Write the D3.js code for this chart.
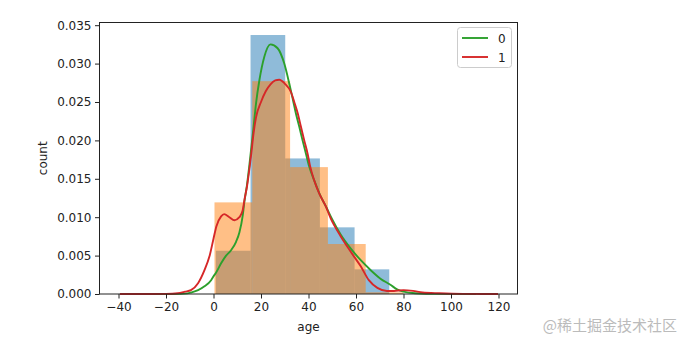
<!DOCTYPE html>
<html>
<head>
<meta charset="utf-8">
<script src="https://cdn.jsdelivr.net/npm/d3@7/dist/d3.min.js"></script>
<style>
  html, body { margin: 0; padding: 0; background: #fff; }
  svg text { font-family: "DejaVu Sans", sans-serif; fill: #222; }
</style>
</head>
<body>
<svg id="chart" width="690" height="347"></svg>
<script>
// Histogram bin edges and densities for each group (0 and 1)
const edges0 = [1, 15.6, 30.2, 44.8, 59.4, 74];
const density0 = [0.00563, 0.03372, 0.01765, 0.00868, 0.00321];
const edges1 = [0.42, 16.34, 32.25, 48.17, 64.08, 80];
const density1 = [0.01193, 0.02771, 0.01652, 0.00651, 0.00022];

// Kernel density estimates: [age, density]
const kde0 = [
  [-35.5, 0], [-20, 0], [-14, 0.00002], [-11, 0.00008], [-9.4, 0.0002],
  [-6.5, 0.0005], [-3.8, 0.0010], [-1, 0.0018], [0, 0.0023], [1.1, 0.0028],
  [3.2, 0.0040], [5.3, 0.0050], [7.4, 0.0057], [9.5, 0.0068], [10.9, 0.0080],
  [12.3, 0.0102], [13, 0.0120], [14.1, 0.0142], [15, 0.0165], [16.9, 0.0218],
  [17.9, 0.0248], [19.3, 0.0278], [21.4, 0.0309], [24, 0.0325], [27, 0.0320],
  [29.8, 0.0300], [31.9, 0.0274], [33.5, 0.0252], [34.7, 0.0235], [36.1, 0.0218],
  [37.5, 0.0200], [38.9, 0.0183], [40.3, 0.0166], [42.4, 0.0148], [45, 0.0128],
  [47.5, 0.0113], [50, 0.0097], [53.6, 0.0077], [57.8, 0.0059], [62, 0.0044],
  [66.2, 0.0031], [70.3, 0.0020], [74.5, 0.0012], [77.3, 0.0006], [80, 0.0003],
  [85, 0.0001], [95, 0.00002], [110.5, 0]
];
const kde1 = [
  [-39.4, 0], [-30, 0], [-20, 0.00002], [-15, 0.0001], [-12, 0.0003],
  [-9.5, 0.0005], [-6.5, 0.0014], [-3.8, 0.0031], [-1.7, 0.0049], [0, 0.0072],
  [1.2, 0.0088], [3.2, 0.0101], [4.5, 0.0104], [6.7, 0.0100], [8.8, 0.0096],
  [10.9, 0.0100], [12.3, 0.0109], [13, 0.0122], [14.1, 0.0140], [15.8, 0.0180],
  [16.9, 0.0210], [17.9, 0.0230], [20, 0.0250], [22, 0.0264], [24, 0.0273],
  [26, 0.0278], [27.7, 0.0279], [30, 0.0274], [32.6, 0.0263], [34, 0.0250],
  [35.4, 0.0236], [36.8, 0.0218], [38.2, 0.0200], [39.6, 0.0183], [40.7, 0.0166],
  [42.4, 0.0148], [44.5, 0.0131], [47.3, 0.0114], [49.4, 0.0098], [53.6, 0.0075],
  [57.8, 0.0055], [62, 0.0036], [65.4, 0.0018], [69, 0.0008], [73, 0.0004],
  [76, 0.0004], [80, 0.0005], [84, 0.0004], [88, 0.0002], [95, 0.0001],
  [105, 0.00002], [119.8, 0]
];

const xTicks = [-40, -20, 0, 20, 40, 60, 80, 100, 120];
const yTicks = [0, 0.005, 0.010, 0.015, 0.020, 0.025, 0.030, 0.035];
const seriesNames = ["0", "1"];

const svg = d3.select("#chart");
const plot = { left: 99.5, right: 517.5, top: 22.5, bottom: 294 };

const x = d3.scaleLinear().domain([-48, 128]).range([plot.left, plot.right]);
const y = d3.scaleLinear().domain([0, 0.03535]).range([plot.bottom, plot.top]);

const histColors = ["#1f77b4", "#ff7f0e"];
const kdeColors = ["#2ca02c", "#d62728"];

// histogram bars
function bins(edges, dens) {
  return dens.map((d, i) => ({ x0: edges[i], x1: edges[i + 1], d }));
}
[bins(edges0, density0), bins(edges1, density1)].forEach((b, k) => {
  svg.append("g").selectAll("rect").data(b).join("rect")
    .attr("x", d => x(d.x0))
    .attr("width", d => x(d.x1) - x(d.x0))
    .attr("y", d => y(d.d))
    .attr("height", d => y(0) - y(d.d))
    .attr("fill", histColors[k])
    .attr("fill-opacity", 0.5);
});

// density curves
const line = d3.line().x(d => x(d[0])).y(d => y(d[1])).curve(d3.curveMonotoneX);
[kde0, kde1].forEach((pts, k) => {
  svg.append("path").datum(pts)
    .attr("d", line)
    .attr("fill", "none")
    .attr("stroke", kdeColors[k])
    .attr("stroke-width", 1.9);
});

// axes
const xAxis = svg.append("g")
  .attr("transform", `translate(0,${plot.bottom})`)
  .call(d3.axisBottom(x).tickValues(xTicks).tickSize(4.5).tickPadding(3.5).tickFormat(d3.format("d")));
const yAxis = svg.append("g")
  .attr("transform", `translate(${plot.left},0)`)
  .call(d3.axisLeft(y).tickValues(yTicks).tickSize(4.5).tickPadding(3.5).tickFormat(d3.format(".3f")));
[xAxis, yAxis].forEach(g => {
  g.select(".domain").remove();
  g.selectAll(".tick line").attr("stroke", "#222").attr("stroke-width", 1);
  g.selectAll(".tick text").attr("font-size", 12).attr("font-family", "DejaVu Sans").attr("fill", "#222");
});

// frame
svg.append("rect")
  .attr("x", plot.left).attr("y", plot.top)
  .attr("width", plot.right - plot.left).attr("height", plot.bottom - plot.top)
  .attr("fill", "none").attr("stroke", "#222").attr("stroke-width", 1);

// axis labels
svg.append("text")
  .attr("x", (plot.left + plot.right) / 2).attr("y", 331)
  .attr("text-anchor", "middle").attr("font-size", 12).text("age");
svg.append("text")
  .attr("transform", `translate(47,${(plot.top + plot.bottom) / 2}) rotate(-90)`)
  .attr("text-anchor", "middle").attr("font-size", 12).text("count");

// legend
const lg = svg.append("g");
lg.append("rect")
  .attr("x", 457.5).attr("y", 27.5).attr("width", 54).attr("height", 40).attr("rx", 3)
  .attr("fill", "#fff").attr("fill-opacity", 0.8).attr("stroke", "#ccc").attr("stroke-width", 1);
seriesNames.forEach((name, i) => {
  const cy = 38 + i * 19;
  lg.append("line")
    .attr("x1", 462).attr("x2", 488).attr("y1", cy).attr("y2", cy)
    .attr("stroke", kdeColors[i]).attr("stroke-width", 1.9);
  lg.append("text")
    .attr("x", 498).attr("y", cy + 4.5).attr("font-size", 12).text(name);
});

// watermark
svg.append("text")
  .attr("x", 677).attr("y", 331).attr("text-anchor", "end")
  .attr("font-size", 15)
  .style("font-family", '"Noto Sans CJK SC", sans-serif')
  .style("fill", "#bbb")
  .text("@稀土掘金技术社区");
</script>
</body>
</html>
